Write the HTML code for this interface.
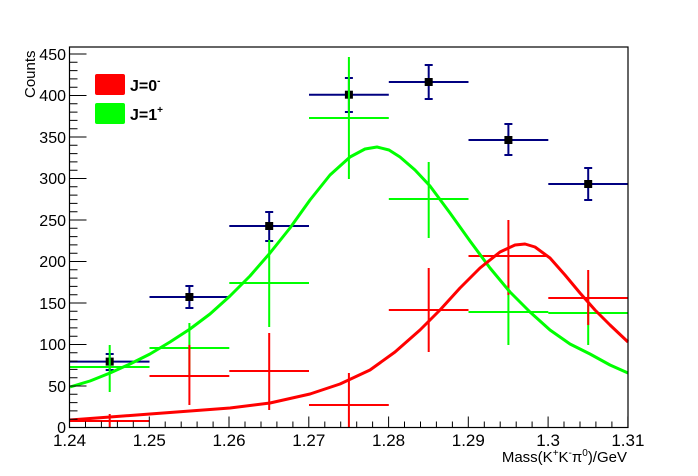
<!DOCTYPE html>
<html><head><meta charset="utf-8"><style>
html,body{margin:0;padding:0;background:#fff;}
svg{display:block;font-family:"Liberation Sans",Arial,sans-serif;}
</style></head><body>
<svg width="698" height="476" viewBox="0 0 698 476" xmlns="http://www.w3.org/2000/svg">
<rect width="698" height="476" fill="#fff"/>
<g stroke="#000080" stroke-width="2" fill="none">
<path d="M70 361.6H149.5M109.7 354V370M105.7 354h8M105.7 370h8"/>
<path d="M149.5 297H229.3M189.4 286V308M185.4 286h8M185.4 308h8"/>
<path d="M229.3 226H309M269.2 212V241M265.2 212h8M265.2 241h8"/>
<path d="M309 94.7H388.8M348.9 78V112M344.9 78h8M344.9 112h8"/>
<path d="M388.8 82H468.5M428.7 65V99M424.7 65h8M424.7 99h8"/>
<path d="M468.5 140H548.3M508.4 124V155M504.4 124h8M504.4 155h8"/>
<path d="M548.3 184H628M588.2 168V200M584.2 168h8M584.2 200h8"/>
</g>
<g fill="#000">
<rect x="105.7" y="357.6" width="8" height="8"/>
<rect x="185.4" y="293" width="8" height="8"/>
<rect x="265.2" y="222" width="8" height="8"/>
<rect x="344.9" y="90.7" width="8" height="8"/>
<rect x="424.7" y="78" width="8" height="8"/>
<rect x="504.4" y="136" width="8" height="8"/>
<rect x="584.2" y="180" width="8" height="8"/>
</g>
<g stroke="#00ff00" stroke-width="2" fill="none">
<path d="M70 367H149.5M109.7 345V392"/>
<path d="M149.5 348H229.3M189.4 323V375"/>
<path d="M229.3 283H309M269.2 240V327"/>
<path d="M309 118H388.8M348.9 57V179"/>
<path d="M388.8 199H468.5M428.7 162V238"/>
<path d="M468.5 312H548.3M508.4 285V345"/>
<path d="M548.3 313H628M588.2 280V345"/>
</g>
<g stroke="#ff0000" stroke-width="2" fill="none">
<path d="M70 421H149.5M109.7 414V427"/>
<path d="M149.5 376H229.3M189.4 345V405"/>
<path d="M229.3 371H309M269.2 333V410"/>
<path d="M309 405H388.8M348.9 373V428"/>
<path d="M388.8 310H468.5M428.7 268V352"/>
<path d="M468.5 256H548.3M508.4 220V295"/>
<path d="M548.3 298H628M588.2 270V325"/>
</g>
<polyline fill="none" stroke="#00ff00" stroke-width="3" stroke-linejoin="round" points="70,387 90,381 110,373 130,364 150,354 170,342 190,329 210,314 230,296 250,276 270,253 290,228 310,200 330,175 350,157 365,149 377,147 389,150 400,157 415,170 430,186 450,213 470,241 490,268 510,292 530,312 550,330 570,344 590,354 610,365 628,373"/>
<polyline fill="none" stroke="#ff0000" stroke-width="3" stroke-linejoin="round" points="70,420 110,417 150,414 190,411 230,408 270,403 310,394 340,384 370,370 395,352 420,330 440,310 460,288 480,268 500,252 515,245 525,244 535,247 550,258 565,275 580,293 595,310 610,325 628,342"/>
<rect x="69.5" y="47" width="558.5" height="380.5" fill="none" stroke="#000" stroke-width="1.2"/>
<g stroke="#000" stroke-width="1">
<path d="M69.5 427.5h17M69.5 386h17M69.5 344.5h17M69.5 303h17M69.5 261.5h17M69.5 220h17M69.5 178.5h17M69.5 137h17M69.5 95.5h17M69.5 54h17"/>
<path d="M69.5 419.2h8M69.5 410.9h8M69.5 402.6h8M69.5 394.3h8M69.5 377.7h8M69.5 369.4h8M69.5 361.1h8M69.5 352.8h8M69.5 336.2h8M69.5 327.9h8M69.5 319.6h8M69.5 311.3h8M69.5 294.7h8M69.5 286.4h8M69.5 278.1h8M69.5 269.8h8M69.5 253.2h8M69.5 244.9h8M69.5 236.6h8M69.5 228.3h8M69.5 211.7h8M69.5 203.4h8M69.5 195.1h8M69.5 186.8h8M69.5 170.2h8M69.5 161.9h8M69.5 153.6h8M69.5 145.3h8M69.5 128.7h8M69.5 120.4h8M69.5 112.1h8M69.5 103.8h8M69.5 87.2h8M69.5 78.9h8M69.5 70.6h8M69.5 62.3h8"/>
<path d="M69.5 427.5v-11M149.3 427.5v-11M229 427.5v-11M308.8 427.5v-11M388.6 427.5v-11M468.3 427.5v-11M548.1 427.5v-11M627.9 427.5v-11"/>
<path d="M85.5 427.5v-6M101.4 427.5v-6M117.4 427.5v-6M133.3 427.5v-6M165.2 427.5v-6M181.2 427.5v-6M197.1 427.5v-6M213.1 427.5v-6M245 427.5v-6M261 427.5v-6M276.9 427.5v-6M292.9 427.5v-6M324.8 427.5v-6M340.7 427.5v-6M356.7 427.5v-6M372.6 427.5v-6M404.5 427.5v-6M420.5 427.5v-6M436.4 427.5v-6M452.4 427.5v-6M484.3 427.5v-6M500.2 427.5v-6M516.2 427.5v-6M532.1 427.5v-6M564 427.5v-6M580 427.5v-6M595.9 427.5v-6M611.9 427.5v-6"/>
</g>
<g font-size="16" text-anchor="end" fill="#000">
<text x="66" y="433">0</text><text x="66" y="392">50</text><text x="66" y="350">100</text><text x="66" y="309">150</text>
<text x="66" y="267">200</text><text x="66" y="226">250</text><text x="66" y="184">300</text><text x="66" y="143">350</text>
<text x="66" y="101">400</text><text x="66" y="60">450</text>
</g>
<g font-size="17" text-anchor="middle" fill="#000">
<text x="69.5" y="446">1.24</text><text x="149.3" y="446">1.25</text><text x="229" y="446">1.26</text><text x="308.8" y="446">1.27</text>
<text x="388.6" y="446">1.28</text><text x="468.3" y="446">1.29</text><text x="548.1" y="446">1.3</text><text x="627.9" y="446">1.31</text>
</g>
<text x="627" y="462" font-size="15" text-anchor="end">Mass(K<tspan font-size="10" dy="-6">+</tspan><tspan dy="6">K</tspan><tspan font-size="10" dy="-6">-</tspan><tspan dy="6">π</tspan><tspan font-size="10" dy="-6">0</tspan><tspan dy="6">)/GeV</tspan></text>
<text transform="translate(35 98) rotate(-90)" font-size="15">Counts</text>
<rect x="95" y="74" width="30" height="21" rx="2" fill="#ff0000"/>
<rect x="95" y="103" width="30" height="21" rx="2" fill="#00ff00"/>
<g font-size="16" font-weight="bold">
<text x="130" y="91">J=0<tspan font-size="10" dy="-7">-</tspan></text>
<text x="130" y="120">J=1<tspan font-size="10" dy="-7">+</tspan></text>
</g>
</svg>
</body></html>
